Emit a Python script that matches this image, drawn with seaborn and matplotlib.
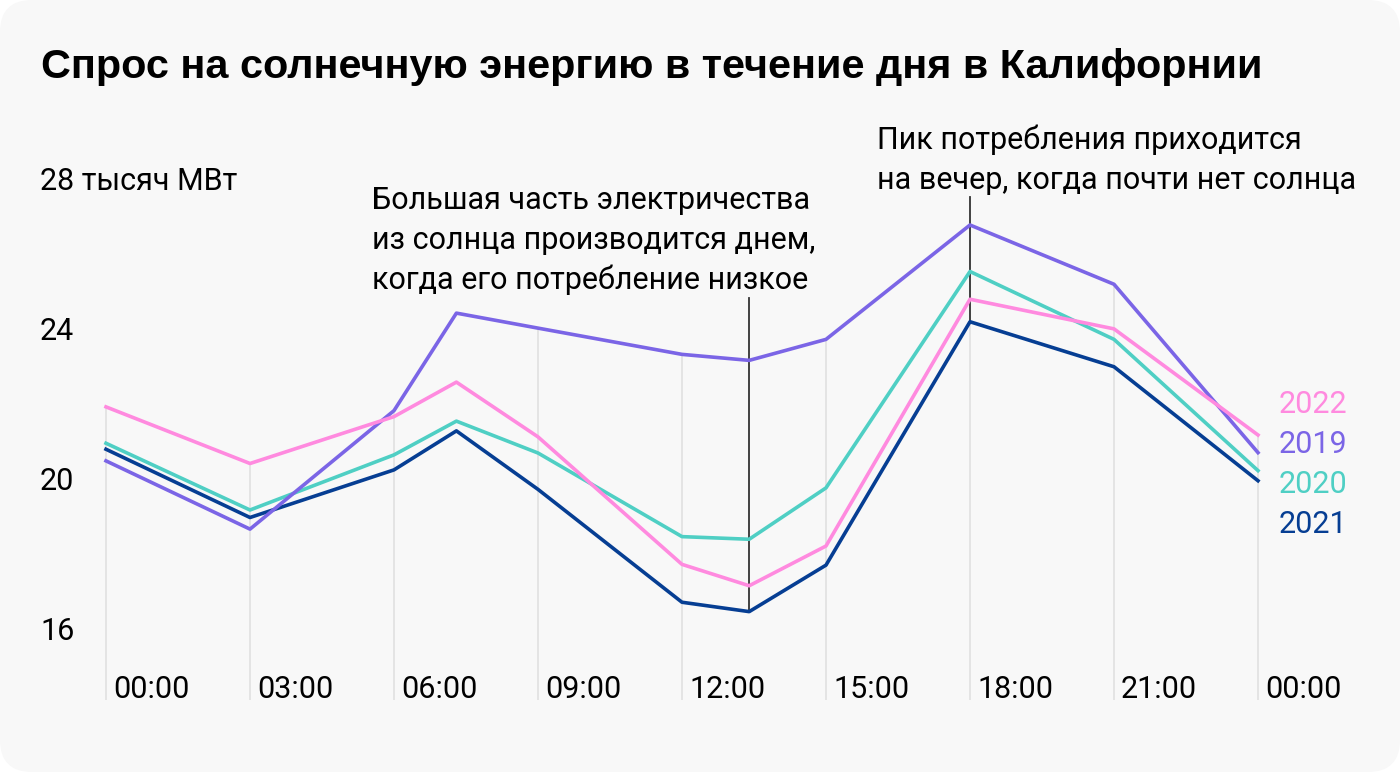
import numpy as np
import pandas as pd
import matplotlib
matplotlib.use("Agg")
import matplotlib.pyplot as plt
import seaborn as sns
from matplotlib.patches import FancyBboxPatch
from matplotlib.transforms import IdentityTransform

# ---------------- data ----------------
hours = [0, 3, 6, 7.3, 9, 12, 13.4, 15, 18, 21, 24]
y2019 = [20.51, 18.69, 21.85, 24.45, 24.05, 23.35, 23.19, 23.75, 26.80, 25.22, 20.73]
y2020 = [20.98, 19.20, 20.67, 21.57, 20.72, 18.49, 18.42, 19.79, 25.56, 23.75, 20.25]
y2021 = [20.82, 19.00, 20.27, 21.31, 19.75, 16.74, 16.49, 17.73, 24.22, 23.02, 19.98]
y2022 = [21.95, 20.44, 21.69, 22.61, 21.15, 17.75, 17.18, 18.24, 24.82, 24.03, 21.20]
years = ["2022", "2019", "2020", "2021"]
tick_hours = [0, 3, 6, 9, 12, 15, 18, 21, 24]
tick_labels = ["00:00", "03:00", "06:00", "09:00", "12:00", "15:00", "18:00", "21:00", "00:00"]
y_ticks = [16, 20, 24, 28]
y_tick_labels = ["16", "20", "24", "28 тысяч МВт"]
title = "Спрос на солнечную энергию в течение дня в Калифорнии"
note1 = ["Большая часть электричества", "из солнца производится днем,", "когда его потребление низкое"]
note2 = ["Пик потребления приходится", "на вечер, когда почти нет солнца"]
note1_hour, note2_hour = 13.4, 18
note1_top, note2_top = 24.85, 27.55

colors = {"2022": "#FF8ADF", "2019": "#7B65E6", "2020": "#4FCFC4", "2021": "#063E93"}

df = pd.DataFrame({
    "hour": hours * 4,
    "value": y2022 + y2019 + y2020 + y2021,
    "year": sum([[y] * len(hours) for y in years], []),
})

# ---------------- figure ----------------
W, H, DPI = 1400, 772, 100
fig = plt.figure(figsize=(W / DPI, H / DPI), dpi=DPI, facecolor="white")
bg = FancyBboxPatch((0, 0), W, H, boxstyle="round,pad=0,rounding_size=32",
                    transform=IdentityTransform(), facecolor="#F8F8F8", edgecolor="none", zorder=-10)
fig.add_artist(bg)

ax = fig.add_axes([0, 0, 1, 1])
ax.set_facecolor("none")
# pixel -> data mapping (x: 48 px per hour, 0h at px 106; y: 37.5 px per unit, 20 at px 480)
def px2x(px):
    return (px - 106) / 48.0
def py2y(py):
    return 20 - (py - 480) / 37.5
ax.set_xlim(px2x(0), px2x(W))
ax.set_ylim(py2y(H), py2y(0))
ax.axis("off")

font = "Roboto"
FS = 22

# vertical grid lines (from top series value down to bottom)
for h in tick_hours:
    top = df[df.hour == h].value.max()
    ax.plot([h, h], [py2y(700), top], color="#E2E2E2", lw=1.3, zorder=1, solid_capstyle="butt")

# annotation lines
low1 = df[(df.hour == note1_hour)].value.min()
low2 = df[(df.hour == note2_hour)].value.min()
ax.plot([note1_hour, note1_hour], [low1, note1_top], color="#333333", lw=1.3, zorder=2)
ax.plot([note2_hour, note2_hour], [low2, note2_top], color="#333333", lw=1.3, zorder=2)

sns.lineplot(data=df, x="hour", y="value", hue="year", hue_order=["2021", "2020", "2019", "2022"],
             palette=colors, lw=2.6, legend=False, ax=ax, zorder=3)

# x tick labels
for h, lab in zip(tick_hours, tick_labels):
    ax.text(h + 7 / 48, py2y(698), lab, fontsize=FS, family=font, ha="left", va="baseline", color="black")

# y tick labels
for v, lab in zip(y_ticks, y_tick_labels):
    ax.text(px2x(40), v - 10 / 37.5, lab, fontsize=FS, family=font, ha="left", va="baseline", color="black")

# series labels
for yr, base in zip(years, [413, 453, 493, 533]):
    ax.text(px2x(1279), py2y(base), yr, fontsize=FS, family=font, ha="left", va="baseline", color=colors[yr])

# notes
for i, line in enumerate(note1):
    ax.text(px2x(372), py2y(209 + 40 * i), line, fontsize=FS, family=font, ha="left", va="baseline", color="black")
for i, line in enumerate(note2):
    ax.text(px2x(877), py2y(149 + 40 * i), line, fontsize=FS, family=font, ha="left", va="baseline", color="black")

# title
ax.text(px2x(41), py2y(78), title, fontsize=29.8, family="Liberation Sans", fontweight="bold",
        ha="left", va="baseline", color="black")

fig.savefig("out.png", dpi=DPI, facecolor="white")
